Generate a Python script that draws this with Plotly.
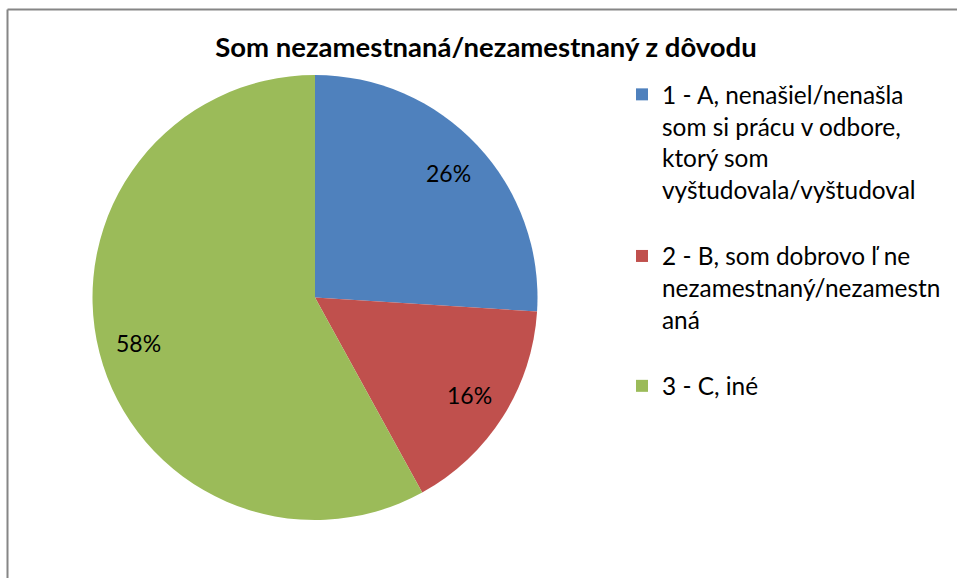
import math
import plotly.graph_objects as go

title = "Som nezamestnaná/nezamestnaný z dôvodu"
labels = [
    "1 - A, nenašiel/nenašla<br>som si prácu v odbore,<br>ktorý som<br>vyštudovala/vyštudoval",
    "2 - B, som dobrovo ľ ne<br>nezamestnaný/nezamestn<br>aná",
    "3 - C, iné",
]
values = [26, 16, 58]
colors = ["#4F81BD", "#C0504D", "#9BBB59"]

FONT = "Lato"
W, H = 957, 578
cx, cy, r = 315, 297.5, 222.5
LABEL_R = 0.82
LEGEND_PAD_LINES = [1, 1, 0]  # extra blank lines after each legend entry (spacing only)

legend_names = [lab + "<br> " * pad for lab, pad in zip(labels, LEGEND_PAD_LINES)]

fig = go.Figure(go.Pie(
    labels=legend_names,
    values=values,
    sort=False,
    direction="clockwise",
    rotation=0,
    marker=dict(colors=colors, line=dict(width=0)),
    textinfo="none",
    customdata=labels,
    hovertemplate="%{customdata}<br>%{percent}<extra></extra>",
    domain=dict(x=[(cx - r) / W, (cx + r) / W], y=[(H - cy - r) / H, (H - cy + r) / H]),
))

# percentage labels placed along each slice's mid-angle
total = sum(values)
annotations = []
cum = 0
for v in values:
    theta = 2 * math.pi * (cum + v / 2) / total
    cum += v
    px = cx + LABEL_R * r * math.sin(theta)
    py = cy - LABEL_R * r * math.cos(theta)
    annotations.append(dict(
        x=px / W, y=1 - py / H, xref="paper", yref="paper",
        text=f"{round(100 * v / total)}%", showarrow=False,
        xanchor="center", yanchor="middle",
        font=dict(family=FONT, size=23, color="#000000"),
    ))

fig.update_layout(
    width=W, height=H,
    margin=dict(l=0, r=0, t=0, b=0),
    paper_bgcolor="white",
    plot_bgcolor="white",
    font=dict(family=FONT, color="#000000"),
    title=dict(text="<b>" + title + "</b>", x=486 / W, xanchor="center", y=1 - 47 / H, yanchor="middle",
               font=dict(family=FONT, size=27.5, color="#000000")),
    legend=dict(x=622 / W, xanchor="left", y=1 - 72 / H, yanchor="top",
                font=dict(family=FONT, size=24.4, color="#000000"),
                valign="top", itemwidth=30, tracegroupgap=0, bgcolor="rgba(0,0,0,0)"),
    annotations=annotations,
    shapes=[
        dict(type="line", xref="paper", yref="paper", x0=7.5 / W, x1=1, y0=1 - 9.5 / H, y1=1 - 9.5 / H,
             line=dict(color="#868686", width=2), layer="below"),
        dict(type="line", xref="paper", yref="paper", x0=7.5 / W, x1=7.5 / W, y0=0, y1=1 - 9.5 / H,
             line=dict(color="#868686", width=2), layer="below"),
    ],
)

fig.write_html("out.html", config={"displayModeBar": False},
               post_script="document.body.style.margin='0';document.documentElement.style.overflow='hidden';")
